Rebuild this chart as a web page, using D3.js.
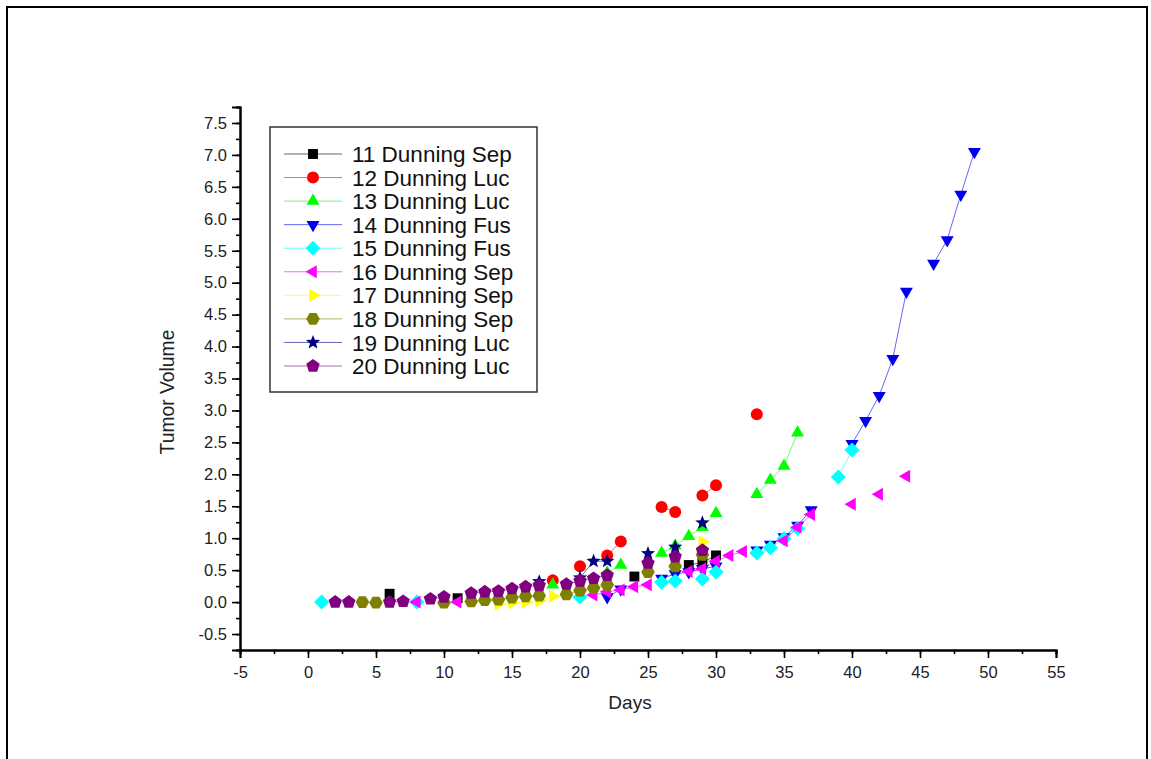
<!DOCTYPE html>
<html>
<head>
<meta charset="utf-8">
<script src="https://cdn.jsdelivr.net/npm/d3@7"></script>
<style>
  html, body { margin: 0; padding: 0; background: #fff; }
  svg { display: block; }
  text { font-family: Arial, "Liberation Sans", sans-serif; }
</style>
</head>
<body>
<svg id="chart" width="1151" height="759"></svg>
<script>
// ---------- data (day, tumor volume) ----------
const seriesLabels = ["11 Dunning Sep","12 Dunning Luc","13 Dunning Luc","14 Dunning Fus","15 Dunning Fus",
                      "16 Dunning Sep","17 Dunning Sep","18 Dunning Sep","19 Dunning Luc","20 Dunning Luc"];
const s11 = [[6,0.13],[11,0.06],[24,0.40],[28,0.58],[29,0.62],[30,0.73]];
const s12 = [[18,0.34],[20,0.56],[22,0.73],[23,0.95],[26,1.49],[27,1.41],[29,1.67],[30,1.83],[33,2.94]];
const s13 = [[18,0.27],[22,0.46],[23,0.58],[26,0.77],[27,0.88],[28,1.03],[29,1.17],[30,1.39],
             [33,1.69],[34,1.91],[35,2.13],[36,2.65]];
const s14 = [[22,0.08],[23,0.20],[26,0.37],[27,0.44],[28,0.47],[29,0.52],[30,0.56],[33,0.81],[34,0.90],
             [35,1.02],[36,1.20],[37,1.44],[40,2.48],[41,2.84],[42,3.23],[43,3.81],[44,4.86],
             [46,5.30],[47,5.67],[48,6.38],[49,7.05]];
const s15 = [[1,0.0],[8,0.0],[20,0.08],[26,0.31],[27,0.33],[29,0.36],[30,0.47],[33,0.77],[34,0.85],
             [35,0.99],[36,1.15],[39,1.96],[40,2.38]];
const s16 = [[8,0.0],[11,0.0],[21,0.11],[22,0.16],[23,0.19],[24,0.24],[25,0.27],[28,0.48],[29,0.52],
             [30,0.64],[31,0.73],[32,0.79],[35,0.96],[36,1.17],[37,1.37],[40,1.53],[42,1.69],[44,1.97]];
const s17 = [[14,-0.03],[15,-0.01],[16,0.0],[17,0.02],[18,0.09],[29,0.94]];
const s18 = [[4,0.0],[5,-0.01],[10,-0.01],[12,0.01],[13,0.03],[14,0.04],[15,0.07],[16,0.09],[17,0.10],
             [19,0.12],[20,0.18],[21,0.22],[22,0.27],[25,0.47],[27,0.56],[29,0.74]];
const s19 = [[17,0.32],[20,0.38],[21,0.64],[22,0.64],[25,0.76],[27,0.86],[29,1.24]];
const s20 = [[2,0.0],[3,0.0],[6,0.0],[7,0.01],[9,0.05],[10,0.08],[12,0.14],[13,0.16],[14,0.17],[15,0.21],
             [16,0.24],[17,0.26],[19,0.28],[20,0.33],[21,0.37],[22,0.42],[25,0.61],[27,0.71],[29,0.81]];
const seriesData = [s11,s12,s13,s14,s15,s16,s17,s18,s19,s20];
const xTicks = [-5,0,5,10,15,20,25,30,35,40,45,50,55];
const yTicks = [-0.5,0.0,0.5,1.0,1.5,2.0,2.5,3.0,3.5,4.0,4.5,5.0,5.5,6.0,6.5,7.0,7.5];

// ---------- styles ----------
const colors = ["#000000","#ff0000","#00ff00","#0000ee","#00ffff","#ff00ff","#ffff00","#808000","#000080","#800080"];
const shapes = ["square","circle","up","down","diamond","left","right","hexagon","star","pentagon"];

const svg = d3.select("#chart");

// page frame
svg.append("rect").attr("x",7).attr("y",7).attr("width",1140).attr("height",760)
   .attr("fill","none").attr("stroke","#000").attr("stroke-width",2);

const x = d3.scaleLinear().domain([-5,55]).range([240,1056]);
const y = d3.scaleLinear().domain([-0.75,7.75]).range([650,107]);

// ---------- axes ----------
const xMinor = d3.range(-5,55.01,2.5);
const yMinor = d3.range(-0.75,7.76,0.25);
const fmtX = d => String(d);
const fmtY = d => d.toFixed(1);

const xAxisMinor = d3.axisBottom(x).tickValues(xMinor).tickSize(4).tickFormat("");
const xAxis = d3.axisBottom(x).tickValues(xTicks).tickSize(8).tickPadding(8).tickFormat(fmtX);
const yAxisMinor = d3.axisLeft(y).tickValues(yMinor).tickSize(4).tickFormat("");
const yAxis = d3.axisLeft(y).tickValues(yTicks).tickSize(8).tickPadding(5).tickFormat(fmtY);

function styleAxis(g) {
  g.select(".domain").attr("stroke","#000").attr("stroke-width",2);
  g.selectAll(".tick line").attr("stroke","#000").attr("stroke-width",1.6);
  g.selectAll(".tick text").attr("fill","#222").style("font-size","16.5px");
}
svg.append("g").attr("transform","translate(0,650)").call(xAxisMinor).call(styleAxis);
svg.append("g").attr("transform","translate(0,650)").call(xAxis).call(styleAxis);
svg.append("g").attr("transform","translate(240,0)").call(yAxisMinor).call(styleAxis);
svg.append("g").attr("transform","translate(240,0)").call(yAxis).call(styleAxis);

svg.append("text").attr("x",630).attr("y",709).attr("text-anchor","middle")
   .attr("fill","#222").style("font-size","19px").text("Days");
svg.append("text").attr("transform","translate(174,392) rotate(-90) scale(0.92,1)").attr("text-anchor","middle")
   .attr("fill","#222").style("font-size","21px").text("Tumor Volume");

// ---------- markers ----------
function poly(n, r, rot) {
  const pts = d3.range(n).map(i => {
    const a = rot + i * 2 * Math.PI / n;
    return [r * Math.cos(a), r * Math.sin(a)];
  });
  return "M" + pts.map(p => p[0].toFixed(2) + "," + p[1].toFixed(2)).join("L") + "Z";
}
function starPath(ro, ri) {
  const pts = d3.range(10).map(i => {
    const r = i % 2 ? ri : ro;
    const a = -Math.PI / 2 + i * Math.PI / 5;
    return [r * Math.cos(a), r * Math.sin(a)];
  });
  return "M" + pts.map(p => p[0].toFixed(2) + "," + p[1].toFixed(2)).join("L") + "Z";
}
const markerPaths = {
  square: poly(4, 7, Math.PI / 4),
  circle: d3.symbol().type(d3.symbolCircle).size(Math.PI * 36)(),
  up: poly(3, 7.5, -Math.PI / 2),
  down: poly(3, 7.5, Math.PI / 2),
  diamond: poly(4, 7.5, 0),
  left: poly(3, 7.5, Math.PI),
  right: poly(3, 7.5, 0),
  hexagon: poly(6, 6.8, 0),
  star: starPath(7.5, 3.2),
  pentagon: poly(5, 7, -Math.PI / 2)
};

function segments(data) {
  const segs = [];
  let cur = [];
  data.forEach((d, i) => {
    if (i > 0 && d[0] - data[i - 1][0] !== 1) { segs.push(cur); cur = []; }
    cur.push(d);
  });
  segs.push(cur);
  return segs.filter(s => s.length > 1);
}
const line = d3.line().x(d => x(d[0])).y(d => y(d[1]));

seriesData.forEach((data, i) => {
  const g = svg.append("g");
  g.selectAll("path.seg").data(segments(data)).join("path").attr("class","seg")
    .attr("d", line).attr("fill","none").attr("stroke", colors[i]).attr("stroke-width",1).attr("opacity",0.6);
  g.selectAll("path.mk").data(data).join("path").attr("class","mk")
    .attr("d", markerPaths[shapes[i]])
    .attr("transform", d => `translate(${x(d[0])},${y(d[1])})`)
    .attr("fill", colors[i]);
});

// ---------- legend ----------
const lg = svg.append("g");
lg.append("rect").attr("x",270).attr("y",127).attr("width",267).attr("height",265)
  .attr("fill","#fff").attr("stroke","#333").attr("stroke-width",1.5);
const ly = d3.scalePoint().domain(seriesLabels).range([154,366]);
seriesLabels.forEach((lab, i) => {
  const yy = ly(lab);
  lg.append("line").attr("x1",284).attr("x2",342).attr("y1",yy).attr("y2",yy)
    .attr("stroke", colors[i]).attr("stroke-width",1).attr("opacity",0.6);
  lg.append("path").attr("d", markerPaths[shapes[i]]).attr("transform",`translate(313,${yy})`).attr("fill", colors[i]);
  lg.append("text").attr("x",352).attr("y",yy).attr("dy","0.36em").attr("fill","#111")
    .style("font-size","22.5px").text(lab);
});
</script>
</body>
</html>
